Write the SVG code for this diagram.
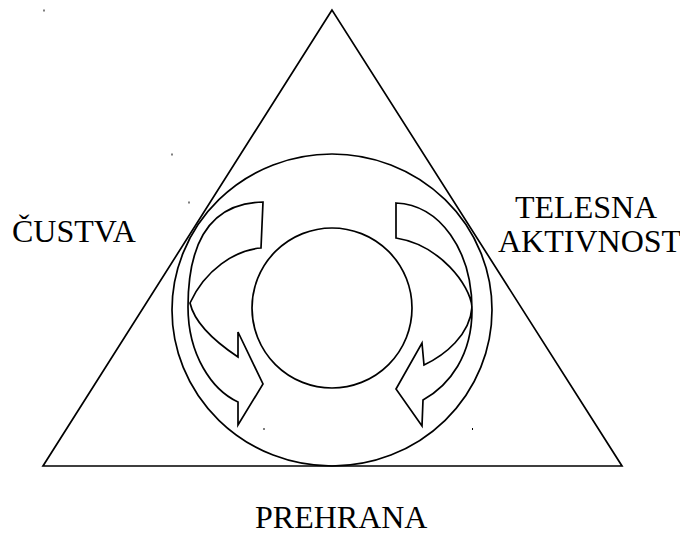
<svg xmlns="http://www.w3.org/2000/svg" width="680" height="534" viewBox="0 0 680 534">
<style>
.ln{fill:none;stroke:#000;stroke-width:1.7;stroke-linejoin:miter}
.ar{fill:#fff;stroke:#000;stroke-width:1.7;stroke-linejoin:miter}
.dot{fill:#000}
</style>
<rect width="680" height="534" fill="#fff"/>
<g id="triangle"><polygon class="ln" points="332,10 43,466 622,466"/></g>
<g id="outer-circle"><ellipse class="ln" cx="332" cy="310" rx="160" ry="156"/></g>
<g id="inner-circle"><circle class="ln" cx="332" cy="308" r="80"/></g>
<g id="connectors">
<path id="arrow-left" class="ar" d="M263 202 C215 203 188 235 188 307 C188 355 212 390 238 402 L238 425 L263 384 L238 332 L238 357 C220 345 195 325 190 303 C205 270 235 250 261 248 Z"/>
<path id="arrow-right" class="ar" d="M396 203 C440 205 472 250 472 310 C472 355 450 385 423 400 L422 426 L396 389 L422 343 L424 365 C445 355 470 335 472 307 C470 285 440 245 396 238 Z"/>
</g>
<g id="label-custva"><text x="12" y="242" font-family="Liberation Serif, serif" font-size="32" fill="#000">ČUSTVA</text></g>
<g id="label-telesna"><text x="515" y="218" font-family="Liberation Serif, serif" font-size="32" fill="#000">TELESNA</text><text x="498" y="252" font-family="Liberation Serif, serif" font-size="32" fill="#000">AKTIVNOST</text></g>
<g id="label-prehrana"><text x="255" y="528" font-family="Liberation Serif, serif" font-size="32" fill="#000">PREHRANA</text></g>
<g id="specks">
<rect class="dot" x="43.5" y="9.5" width="1" height="2"/>
<rect class="dot" x="171.5" y="153.5" width="1" height="2"/>
<rect class="dot" x="188.5" y="201.5" width="1" height="2"/>
<rect class="dot" x="263.5" y="428" width="1" height="2"/>
<rect class="dot" x="472" y="428" width="1" height="2"/>
</g>
</svg>
